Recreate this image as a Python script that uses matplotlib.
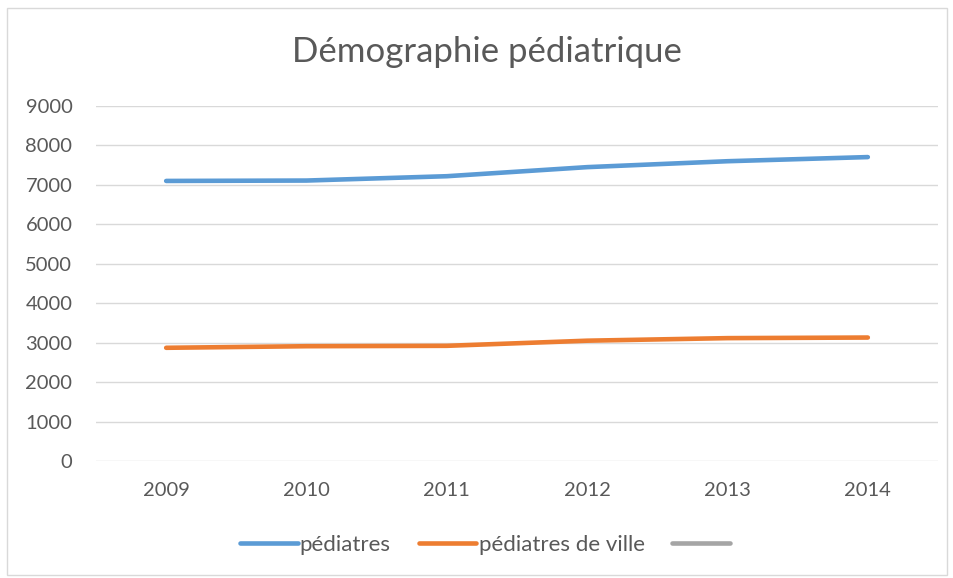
import matplotlib as mpl
mpl.use('Agg')
import matplotlib.pyplot as plt
from matplotlib.patches import Rectangle

# data
annees = ['2009', '2010', '2011', '2012', '2013', '2014']
pediatres = [7100, 7110, 7220, 7450, 7600, 7705]
pediatres_ville = [2870, 2910, 2920, 3050, 3115, 3130]
yticks = [0, 1000, 2000, 3000, 4000, 5000, 6000, 7000, 8000, 9000]

plt.rcParams['font.family'] = ['Lato', 'DejaVu Sans']
txt = '#595959'

fig = plt.figure(figsize=(9.54, 5.78), dpi=100)
fig.patches.append(Rectangle((7 / 954, 3 / 578), 940 / 954, 567 / 578,
                             transform=fig.transFigure, fill=False,
                             edgecolor='#d9d9d9', lw=1))
ax = fig.add_axes([96 / 954, 1 - 461 / 578, 842 / 954, 355 / 578])

x = range(len(annees))
ax.plot(x, pediatres, color='#5b9bd5', lw=3.3, solid_capstyle='round',
        label='pédiatres')
ax.plot(x, pediatres_ville, color='#ed7d31', lw=3.3, solid_capstyle='round',
        label='pédiatres de ville')
ax.plot([], [], color='#a5a5a5', lw=3.3, solid_capstyle='round', label=' ')

ax.set_xlim(-0.5, len(annees) - 0.5)
ax.set_ylim(0, 9000)
ax.set_yticks(yticks)
ax.set_xticks(list(x))
ax.set_xticklabels(annees)
ax.grid(axis='y', color='#d9d9d9', lw=1)
ax.set_axisbelow(True)
for s in ax.spines.values():
    s.set_visible(False)
ax.tick_params(length=0, labelsize=14.5, colors=txt)
ax.tick_params(axis='y', pad=17)
ax.tick_params(axis='x', pad=15)

fig.text(487 / 954, 1 - 52 / 578, 'Démographie pédiatrique', ha='center',
         va='center', fontsize=25, color=txt)

fig.legend(loc='center', bbox_to_anchor=(489 / 954, 1 - 545 / 578), ncol=3,
           frameon=False, fontsize=16, labelcolor=txt, handlelength=2.6,
           handletextpad=0.1, columnspacing=1.25)

plt.savefig('out.png', dpi=100)
